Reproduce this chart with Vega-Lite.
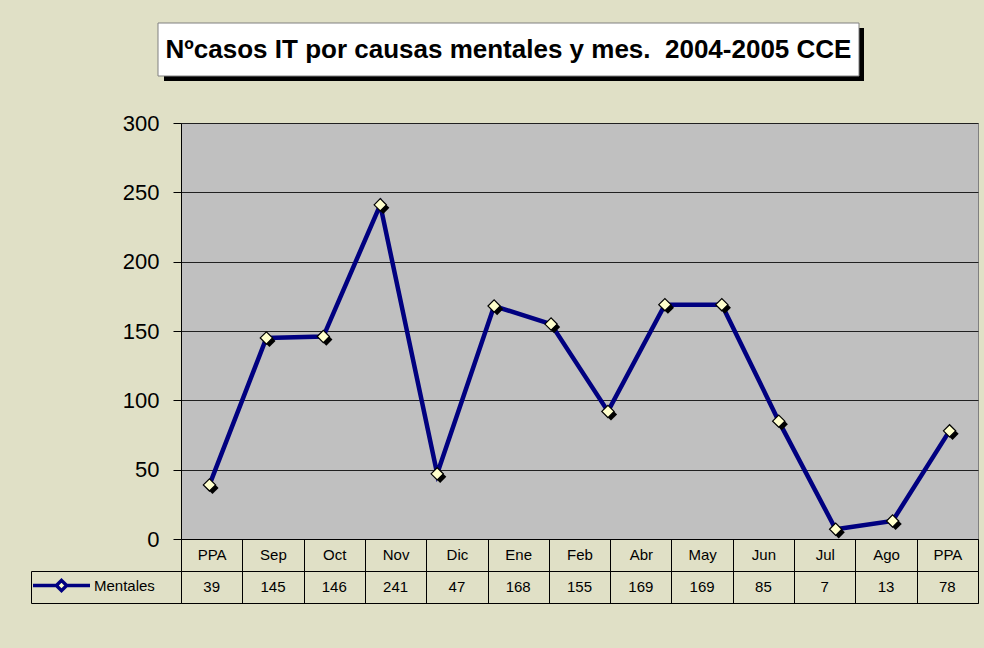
{
  "$schema": "https://vega.github.io/schema/vega-lite/v6.json",
  "background": "#E0E0C6",
  "padding": {"left": 30, "top": 22, "right": 7, "bottom": 46},
  "config": {"font": "Liberation Sans", "view": {"stroke": null}, "axis": {"title": null}},
  "datasets": {
    "casos": [
      {"mes": "PPA 2004", "serie": "Mentales", "casos": 39, "tabla": true},
      {"mes": "Sep", "serie": "Mentales", "casos": 145, "tabla": true},
      {"mes": "Oct", "serie": "Mentales", "casos": 146, "tabla": true},
      {"mes": "Nov", "serie": "Mentales", "casos": 241, "tabla": true},
      {"mes": "Dic", "serie": "Mentales", "casos": 47, "tabla": true},
      {"mes": "Ene", "serie": "Mentales", "casos": 168, "tabla": true},
      {"mes": "Feb", "serie": "Mentales", "casos": 155, "tabla": true},
      {"mes": "Mar", "serie": "Mentales", "casos": 92, "tabla": false},
      {"mes": "Abr", "serie": "Mentales", "casos": 169, "tabla": true},
      {"mes": "May", "serie": "Mentales", "casos": 169, "tabla": true},
      {"mes": "Jun", "serie": "Mentales", "casos": 85, "tabla": true},
      {"mes": "Jul", "serie": "Mentales", "casos": 7, "tabla": true},
      {"mes": "Ago", "serie": "Mentales", "casos": 13, "tabla": true},
      {"mes": "PPA 2005", "serie": "Mentales", "casos": 78, "tabla": true}
    ]
  },
  "bounds": "flush",
  "spacing": 47,
  "vconcat": [
    {
      "width": 678,
      "height": 53,
      "data": {"values": [{"titulo": "Nºcasos IT por causas mentales y mes.\u00a0 2004-2005 CCE"}]},
      "layer": [
        {
          "mark": {"type": "rect", "fill": "#000000", "xOffset": -17, "x2Offset": 5, "yOffset": 5, "y2Offset": 5},
          "encoding": {
            "x": {"datum": 0, "type": "quantitative", "scale": {"domain": [0, 1], "nice": false}, "axis": null},
            "x2": {"datum": 1},
            "y": {"datum": 0, "type": "quantitative", "scale": {"domain": [0, 1], "nice": false}, "axis": null},
            "y2": {"datum": 1}
          }
        },
        {
          "mark": {"type": "rect", "fill": "#FFFFFF", "stroke": "#808080", "strokeWidth": 1, "xOffset": -23},
          "encoding": {
            "x": {"datum": 0, "type": "quantitative", "scale": {"domain": [0, 1], "nice": false}, "axis": null},
            "x2": {"datum": 1},
            "y": {"datum": 0, "type": "quantitative", "scale": {"domain": [0, 1], "nice": false}, "axis": null},
            "y2": {"datum": 1}
          }
        },
        {
          "mark": {"type": "text", "fontSize": 26, "fontWeight": "bold", "color": "#000000", "xOffset": -11.5},
          "encoding": {
            "text": {"field": "titulo"},
            "x": {"datum": 0.5, "type": "quantitative", "scale": {"domain": [0, 1], "nice": false}, "axis": null},
            "y": {"datum": 0.5, "type": "quantitative", "scale": {"domain": [0, 1], "nice": false}, "axis": null}
          }
        }
      ]
    },
    {
      "bounds": "flush",
      "spacing": 32,
      "vconcat": [
        {
          "width": 797,
          "height": 416,
          "data": {"name": "casos"},
          "view": {"fill": "#C0C0C0", "stroke": "#808080"},
          "encoding": {
            "y": {
              "field": "casos", "type": "quantitative",
              "scale": {"domain": [0, 300], "nice": false},
              "axis": {"values": [0, 50, 100, 150, 200, 250, 300], "tickSize": 8, "tickColor": "#000000", "domainColor": "#000000", "gridColor": "#202020", "gridOpacity": 1, "labelFontSize": 22, "labelPadding": 14, "labelColor": "#000000", "title": null}
            }
          },
          "layer": [
            {
              "transform": [{"filter": "datum.tabla"}],
              "mark": {"type": "point", "opacity": 0},
              "encoding": {
                "x": {
                  "field": "mes", "type": "ordinal", "sort": null,
                  "scale": {"type": "band", "paddingInner": 0, "paddingOuter": 0},
                  "axis": {"labelExpr": "split(datum.label, ' ')[0]", "tickBand": "extent", "tickSize": 32, "tickColor": "#000000", "domainColor": "#000000", "labelAngle": 0, "labelBaseline": "middle", "labelPadding": -17, "labelFontSize": 15, "labelColor": "#000000", "grid": false, "title": null}
                }
              }
            },
            {
              "encoding": {
                "x": {"field": "mes", "type": "ordinal", "sort": null, "scale": {"type": "point", "padding": 0.5}, "axis": null}
              },
              "layer": [
                {
                  "mark": {"type": "line", "strokeWidth": 4.5},
                  "encoding": {
                    "color": {
                      "field": "serie", "type": "nominal",
                      "scale": {"range": ["#000080"]},
                      "legend": {"orient": "none", "legendX": -150, "legendY": 532, "title": null, "padding": 0, "symbolType": "M-1,0H-0.2M0.2,0H1M0,-0.18L0.18,0L0,0.18L-0.18,0Z", "symbolSize": 3249, "symbolStrokeWidth": 3.5, "symbolFillColor": "#FFFFCC", "labelFontSize": 15, "labelColor": "#000000", "labelOffset": 2}
                    }
                  }
                },
                {"mark": {"type": "point", "shape": "diamond", "filled": true, "fill": "#000000", "size": 150, "xOffset": 3, "yOffset": 3, "opacity": 1}},
                {"mark": {"type": "point", "shape": "diamond", "filled": true, "fill": "#FFFFCC", "stroke": "#000000", "strokeWidth": 1.2, "size": 150, "opacity": 1}}
              ]
            }
          ],
          "resolve": {"scale": {"x": "independent"}}
        },
        {
          "width": 797,
          "height": 32,
          "data": {"name": "casos"},
          "transform": [{"filter": "datum.tabla"}],
          "view": {"stroke": "#000000"},
          "mark": {"type": "text", "fontSize": 15, "color": "#000000"},
          "encoding": {
            "x": {
              "field": "mes", "type": "ordinal", "sort": null,
              "scale": {"type": "band", "paddingInner": 0, "paddingOuter": 0},
              "axis": {"orient": "top", "labels": false, "ticks": false, "domain": false, "grid": true, "tickBand": "extent", "gridColor": "#000000", "gridOpacity": 1, "title": null}
            },
            "text": {"field": "casos", "type": "quantitative"},
            "y": {"field": "serie", "type": "nominal", "scale": {"type": "band", "paddingInner": 0, "paddingOuter": 0}, "axis": {"labels": false, "offset": 150, "tickBand": "extent", "tickSize": -150, "tickColor": "#000000", "domain": true, "domainColor": "#000000", "title": null}}
          }
        }
      ]
    }
  ]
}
